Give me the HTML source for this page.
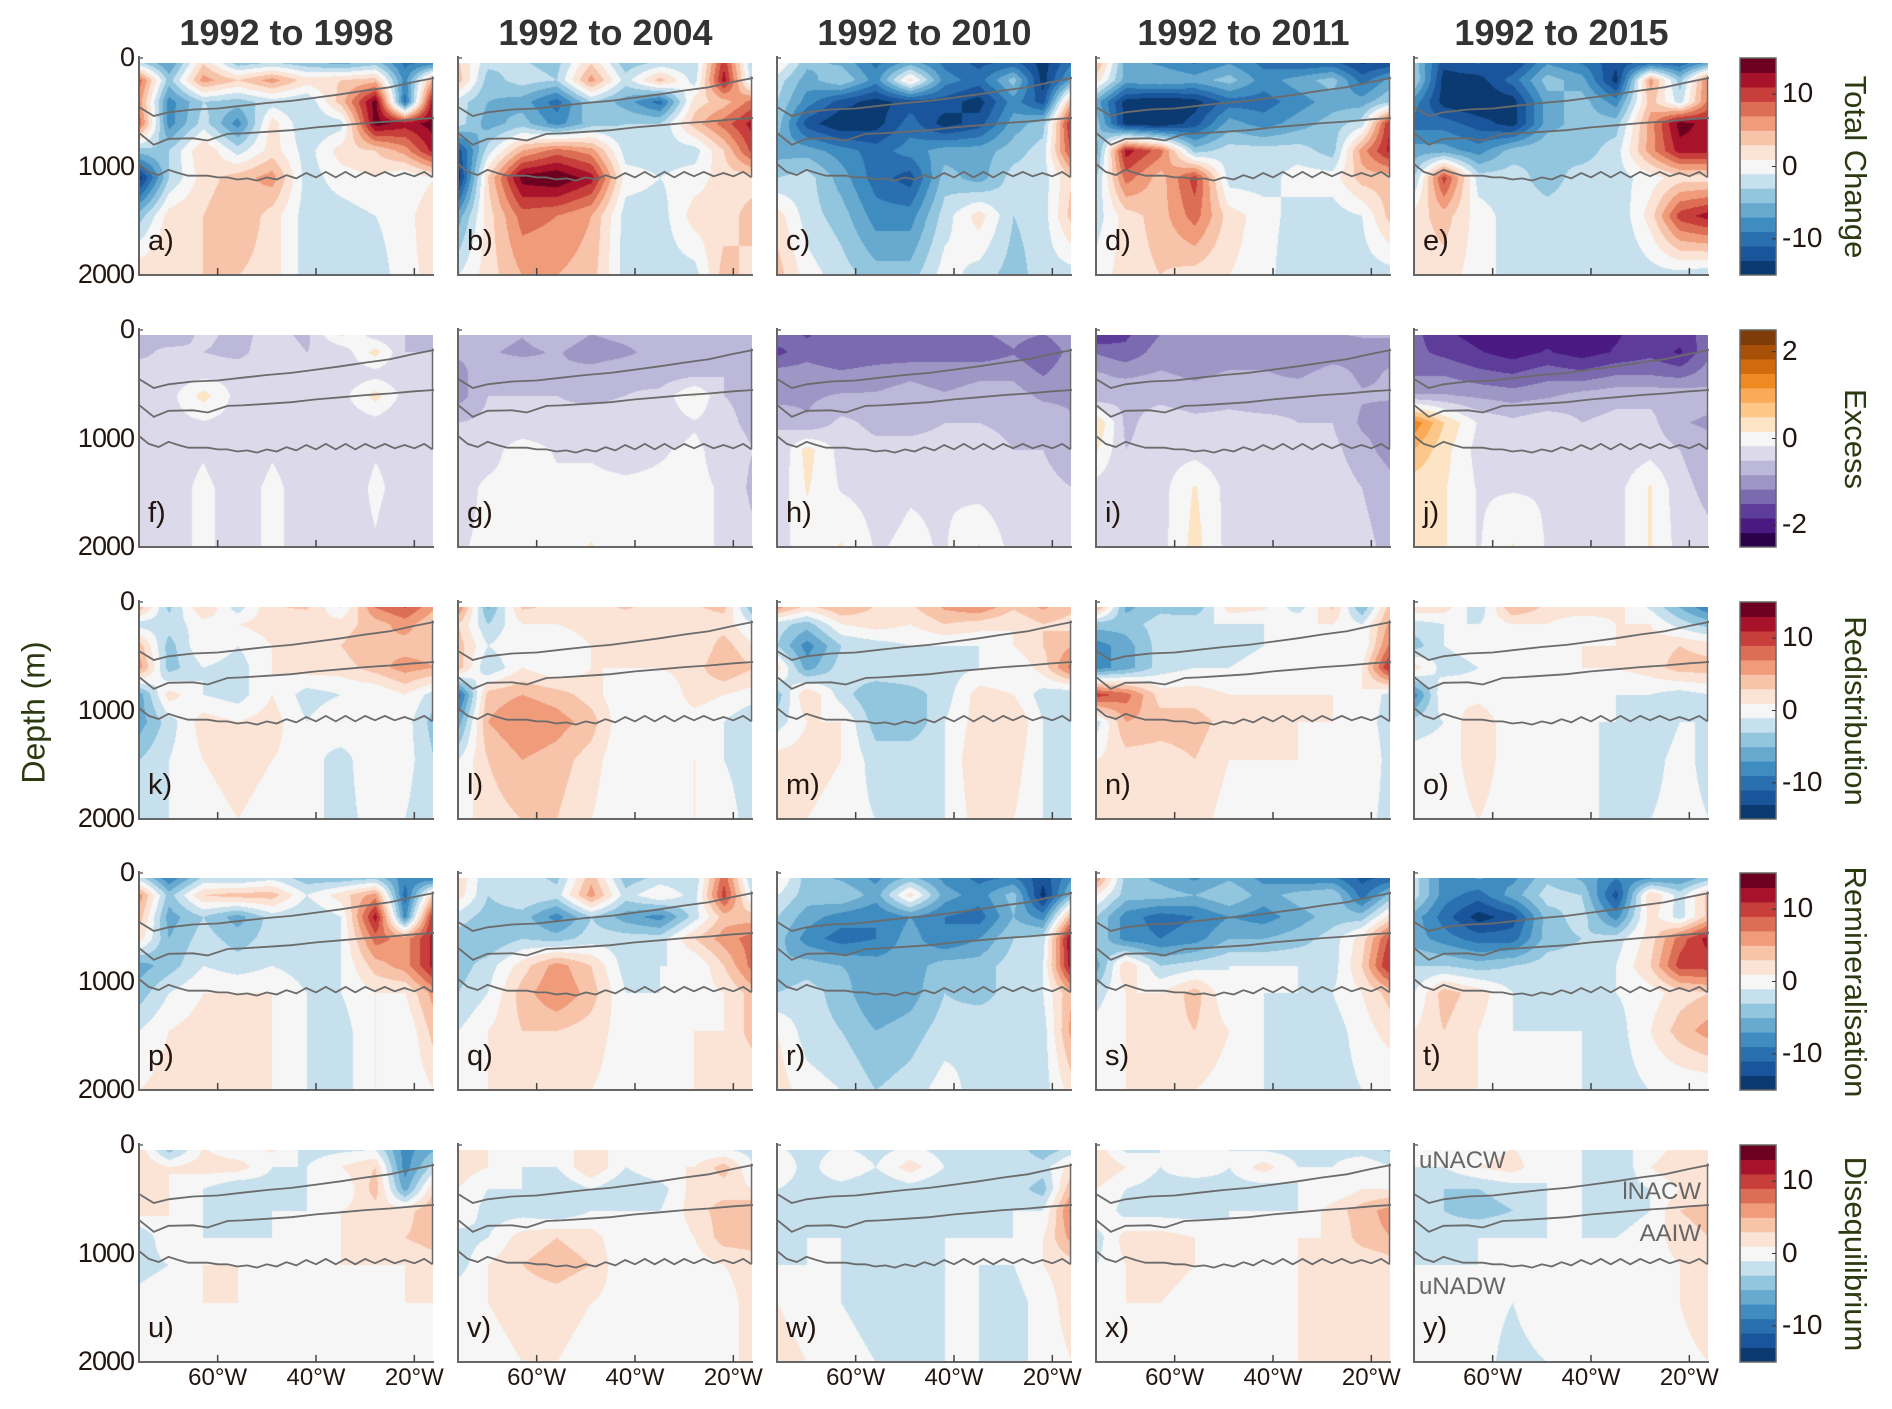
<!DOCTYPE html>
<html><head><meta charset="utf-8">
<style>
body{margin:0;background:#fff;width:1892px;height:1409px;position:relative;overflow:hidden;font-family:"Liberation Sans",sans-serif}
.t{position:absolute;white-space:nowrap}
canvas{position:absolute}
</style></head><body>
<svg id="ov" width="1892" height="1409" style="position:absolute;left:0;top:0;z-index:2"></svg>
<script>
// ---- data ----
const lons=[-76,-70,-63,-56,-49,-42,-35,-28,-22,-16];
const depths=[0,200,400,600,850,1100,1450,2000];
const colTitles=["1992 to 1998","1992 to 2004","1992 to 2010","1992 to 2011","1992 to 2015"];
const rowTitles=["Total Change","Excess","Redistribution","Remineralisation","Disequilibrium"];
const depthTicks=[0,1000,2000];
const lonTicks=[-60,-40,-20];
const lonTickLabels=["60°W","40°W","20°W"];
const cbTicksRB=[10,0,-10];
const cbTicksPO=[2,0,-2];
const line1Lons=[-76,-73,-70,-65,-60,-55,-50,-45,-40,-35,-30,-25,-20,-16];
const line1Dep=[452,535,500,475,465,440,415,395,365,335,300,270,220,184];
const line2Lons=[-76,-73,-70,-65,-62,-58,-55,-50,-45,-40,-35,-30,-25,-20,-16];
const line2Dep=[690,800,745,740,760,700,695,680,665,640,620,600,585,565,553];
const line3Lons=[-76,-74,-72,-70,-68,-66,-64,-62,-60,-58,-56,-54,-52,-50,-48,-46,-44,-42,-40,-38,-36,-34,-32,-30,-28,-26,-24,-22,-20,-18,-16.3];
const line3Dep=[977,1050,1078,1030,1060,1085,1085,1085,1100,1100,1120,1110,1130,1100,1120,1080,1110,1060,1100,1050,1100,1050,1100,1050,1090,1050,1090,1060,1090,1050,1100];
const P={
a:[[-5,-8,2,-6,-5,-6,-8,-6,-10,-12],[8,-4,6,3,6,2,3,4,-8,6],[6,-8,-3,-4,-2,-3,4,14,-10,14],[8,-8,-2,-8,2,-3,-2,14,12,14],[-4,-3,3,-2,2,-2,2,3,6,12],[-14,-3,2,4,6,-2,0,1,-1,1],[-4,2,3,5,2,-2,-2,-1,0,3],[3,3,3,3,2,-2,-2,-2,0,2]],
b:[[3,-2,-3,-4,2,-5,-4,-3,10,-4],[4,-4,-2,-3,6,-2,4,-2,12,-3],[-2,-5,-6,-10,-3,-6,-10,2,4,8],[-2,-6,-4,-8,-4,-3,-3,4,8,12],[-12,-2,5,8,6,-2,-2,-2,3,10],[-14,3,14,15,12,0,-1,0,2,2],[-6,2,8,7,5,-2,-2,2,2,4],[-1,2,5,5,4,-2,-2,-2,4,2]],
c:[[2,-4,-6,-10,-8,-10,-12,-12,-14,-10],[-2,-6,-3,-8,2,-8,-10,-4,-14,-6],[-3,-8,-12,-14,-12,-12,-14,-8,-12,6],[-4,-12,-15,-14,-10,-14,-12,-6,-4,12],[-6,-6,-8,-10,-8,-6,-6,-4,-2,10],[-3,-2,-6,-10,-12,-4,-6,-2,-2,3],[2,-2,-4,-8,-8,-2,2,-3,-2,4],[4,0,-2,-4,-4,0,-2,-4,-2,-2]],
d:[[6,-6,-8,-10,-8,-10,-12,-12,-14,-14],[2,-6,-5,-6,-4,-8,-6,-4,-10,-6],[-6,-14,-15,-14,-10,-10,-8,-6,-6,-3],[-4,-14,-15,-12,-6,-8,-6,-4,-2,12],[-6,12,8,-4,-2,-2,-2,-4,6,12],[-3,8,4,10,-2,-2,0,0,4,4],[-2,2,4,8,2,0,-2,-2,-1,4],[0,2,3,2,1,0,-3,-3,-2,-2]],
e:[[-4,-12,-10,-14,-8,-10,-12,-14,-12,-10],[-3,-14,-14,-10,-4,-6,-14,6,-4,8],[-8,-14,-15,-14,-6,-4,-8,4,-2,8],[-10,-10,-12,-14,-6,-4,-4,6,14,12],[-6,-6,-8,-4,-3,-4,-2,6,12,12],[-3,10,-2,-2,-4,-2,-2,0,2,2],[2,4,0,-2,-2,-2,-3,2,10,12],[2,2,0,-2,-2,-3,-3,-2,-2,-3]],
f:[[-0.5,-0.8,-0.4,-0.6,-0.4,-0.6,0.4,-0.5,-0.5,-0.6],[-0.6,-0.4,-0.5,-0.6,-0.3,-0.5,-0.4,0.3,-0.5,-0.5],[-0.3,-0.4,-0.3,-0.3,-0.3,-0.3,-0.4,-0.3,-0.4,-0.3],[-0.5,-0.3,0.3,-0.3,-0.2,-0.4,-0.3,0.3,-0.3,-0.4],[-0.3,-0.3,-0.2,-0.3,-0.2,-0.3,-0.4,-0.3,-0.5,-0.4],[-0.3,-0.3,-0.2,-0.4,-0.2,-0.3,-0.4,-0.2,-0.3,-0.3],[-0.2,-0.3,-0.1,-0.3,-0.1,-0.3,-0.4,-0.1,-0.3,-0.5],[-0.2,-0.3,-0.1,-0.3,-0.1,-0.3,-0.3,-0.2,-0.4,-0.4]],
g:[[-0.8,-0.7,-0.8,-0.6,-0.8,-0.7,-0.6,-0.8,-0.6,-0.7],[-0.8,-0.8,-0.9,-0.8,-1.0,-0.9,-0.7,-0.8,-0.6,-0.7],[-0.9,-0.7,-0.6,-0.8,-0.7,-0.6,-0.7,-0.6,-0.5,-0.6],[-1.0,-0.5,-0.5,-0.5,-0.6,-0.5,-0.4,0.2,-0.5,-0.6],[-0.5,-0.4,-0.4,-0.4,-0.3,-0.3,-0.4,-0.2,-0.4,-0.6],[-0.3,-0.3,0,-0.2,-0.2,-0.3,-0.2,-0.1,-0.3,-0.5],[-0.3,-0.1,-0.1,-0.1,-0.1,-0.1,-0.1,-0.1,-0.2,-0.6],[-0.2,-0.1,0,-0.1,0.2,-0.1,-0.1,-0.1,-0.2,-0.4]],
h:[[-1.2,-1.6,-1.2,-1.4,-1.2,-1.3,-1.2,-1.0,-1.1,-0.9],[-1.6,-1.3,-1.5,-1.4,-1.4,-1.3,-1.4,-1.2,-1.5,-1.0],[-1.0,-1.0,-1.1,-1.0,-0.9,-1.0,-0.9,-0.9,-1.2,-0.9],[-1.0,-0.9,-0.8,-0.8,-0.7,-0.8,-0.7,-0.7,-0.9,-0.9],[-0.5,-0.8,-0.4,-0.6,-0.6,-0.5,-0.5,-0.6,-0.6,-0.8],[-0.5,0.3,-0.3,-0.4,-0.4,-0.4,-0.3,-0.5,-0.5,-0.7],[-0.4,0.2,-0.2,-0.3,-0.2,-0.2,-0.3,-0.4,-0.4,-0.5],[-0.3,0,0.2,-0.2,-0.1,-0.2,0.2,-0.3,-0.3,-0.4]],
i:[[-2.0,-1.6,-1.2,-1.0,-1.0,-0.9,-0.9,-0.8,-0.8,-0.8],[-1.2,-1.4,-1.0,-0.9,-1.0,-1.0,-1.1,-1.0,-0.9,-0.9],[-0.8,-0.9,-0.8,-0.9,-0.8,-0.8,-0.9,-0.7,-0.9,-0.8],[-0.8,-0.6,-0.6,-0.7,-0.6,-0.7,-0.6,-0.6,-0.8,-0.8],[0.5,-0.6,-0.3,-0.4,-0.4,-0.4,-0.5,-0.5,-0.9,-1.0],[0.2,-0.5,-0.3,-0.3,-0.4,-0.3,-0.4,-0.4,-0.7,-1.0],[-0.3,-0.4,-0.3,0.2,-0.3,-0.3,-0.4,-0.3,-0.5,-0.7],[-0.4,-0.3,-0.3,0.3,-0.3,-0.3,-0.4,-0.3,-0.4,-0.6]],
j:[[-1.4,-1.8,-2.0,-1.8,-2.0,-1.8,-1.9,-1.6,-1.6,-1.4],[-1.4,-1.6,-1.8,-2.0,-1.8,-2.0,-1.8,-1.6,-1.9,-1.2],[-1.2,-1.2,-1.4,-1.5,-1.3,-1.4,-1.2,-1.2,-1.3,-1.0],[-0.8,-0.8,-0.9,-1.0,-0.9,-0.7,-0.6,-0.6,-0.6,-0.7],[1.4,0.5,-0.2,-0.4,-0.2,-0.5,-0.4,-0.4,-0.8,-0.9],[0.8,0.3,-0.3,-0.4,-0.3,-0.3,-0.4,-0.3,-0.5,-0.7],[0.3,0.2,-0.2,-0.2,-0.2,-0.3,-0.3,0.2,-0.4,-0.6],[0.3,0.2,-0.2,0.2,-0.2,-0.2,-0.3,0.2,-0.3,-0.4]],
k:[[6,-4,4,-3,3,4,-2,8,10,6],[-2,-2,0,1,2,1,2,4,6,3],[4,-4,1,-1,1,2,3,5,4,4],[6,-4,-1,-2,1,2,2,4,6,5],[-6,2,-1,-2,1,-2,-1,-1,1,-2],[-6,-2,2,1,2,-1,1,-1,0,-4],[-3,-1,1,2,1,0,-2,1,0,-3],[-2,-1,0,1,0,0,-2,0,-1,-3]],
l:[[8,-6,4,3,2,4,2,3,4,-6],[3,-3,1,1,2,1,1,2,2,-1],[4,-1,1,-1,1,2,1,1,4,1],[4,-3,1,-1,1,1,1,2,5,3],[-10,4,5,4,2,-1,-1,2,1,0],[-6,5,7,6,4,-1,-1,0,-1,-3],[-1,3,5,4,2,-1,-1,1,-1,-2],[0,2,3,3,1,-1,-1,1,0,-2]],
m:[[8,4,6,3,3,6,8,4,6,4],[-2,-4,1,2,1,3,2,1,3,2],[-3,-8,-3,-2,-1,-1,-1,1,3,5],[2,-6,-2,-1,-1,-2,-1,-1,2,8],[-4,3,-2,-5,-4,-2,2,1,-2,-3],[-2,1,1,-4,-5,-1,2,3,-1,-2],[2,2,1,-2,-1,-1,3,2,-1,-3],[1,1,0,-1,-2,-1,2,1,-1,-2]],
n:[[8,-6,-4,-6,3,2,-3,4,-6,4],[-4,-4,-2,-1,-1,-1,1,1,-1,6],[-8,-6,-2,-2,-2,-1,0,0,-1,8],[-8,-6,-2,-1,-1,0,0,0,1,12],[10,8,2,2,1,1,1,1,1,-2],[-2,5,4,4,2,1,1,1,0,-2],[1,2,2,3,1,1,1,0,1,-2],[1,1,1,2,0,0,1,0,0,-2]],
o:[[4,3,-3,6,3,4,2,-2,-6,-10],[-2,-1,-1,1,1,-1,1,1,-2,-4],[-4,-1,0,-1,0,1,1,2,3,2],[2,-2,-1,-1,0,1,1,2,4,4],[-8,1,0,-1,0,-1,-1,-1,-2,-1],[-2,-1,3,-1,-1,-1,-1,-3,-1,-1],[0,0,2,0,-1,0,-2,-2,0,-2],[0,0,1,0,0,0,-2,-1,0,-1]],
p:[[-4,-10,-4,-5,-3,-5,-6,-6,-8,-12],[6,-4,3,4,4,-1,2,6,-10,4],[4,-6,-3,-6,-2,-3,-1,12,-8,12],[2,-5,-2,-4,-2,-3,-1,8,6,12],[-6,-4,-1,-2,-1,-2,-1,4,6,12],[-4,-1,1,1,1,-1,-1,1,1,6],[-1,1,2,2,1,-1,-2,1,-1,4],[1,2,2,2,1,-1,-2,1,-1,1]],
q:[[3,-3,-2,-4,4,-5,-3,-3,8,-4],[2,-3,-1,-2,6,-2,1,-2,10,-2],[-2,-4,-4,-8,-3,-6,-8,-2,4,4],[-4,-5,-3,-4,-2,-2,-2,3,6,8],[-4,-2,2,6,3,-2,-1,-1,3,8],[-3,-1,4,7,4,-1,-1,0,1,4],[-1,1,3,3,2,0,0,1,1,4],[0,1,2,2,1,0,0,1,2,1]],
r:[[2,-4,-6,-8,-6,-8,-10,-10,-12,-8],[-1,-4,-3,-6,2,-6,-8,-4,-14,-4],[-3,-6,-8,-9,-7,-9,-10,-5,-8,6],[-4,-8,-10,-9,-6,-9,-7,-3,-2,14],[-5,-4,-5,-6,-6,-4,-4,-2,-1,13],[-3,-2,-4,-7,-6,-3,-4,-2,-1,5],[1,-2,-3,-5,-4,-2,-1,-2,-2,6],[2,0,-1,-3,-2,0,-2,-2,-2,2]],
s:[[8,-4,-6,-8,-6,-8,-10,-10,-12,-12],[1,-4,-4,-5,-3,-6,-4,-3,-10,-4],[-3,-8,-10,-9,-7,-8,-6,-4,-4,2],[-3,-8,-9,-8,-5,-5,-4,-2,2,10],[-6,3,-3,-2,-1,-1,-1,-2,3,12],[-2,1,1,4,-1,-1,-1,-1,1,4],[0,1,2,3,1,-1,-2,-2,0,2],[0,1,1,1,0,-1,-2,-2,-1,-1]],
t:[[-2,-8,-6,-8,-4,-6,-8,-10,-8,-6],[-2,-8,-10,-6,-2,-3,-12,3,-2,4],[-6,-10,-14,-12,-4,-2,-8,2,-2,4],[-6,-8,-10,-10,-4,-3,-2,2,8,12],[-3,-3,-4,-3,-2,-2,-1,3,10,10],[-1,4,2,-1,-2,-1,-1,0,2,3],[1,3,1,-1,-1,-1,-2,1,4,6],[1,1,1,-1,-1,-1,-2,-1,-1,-1]],
u:[[2,-5,1,-1,2,-2,-2,-2,-8,-6],[3,1,2,2,-1,-1,1,3,-8,-2],[1,1,-1,-3,-2,-1,-1,4,-6,3],[2,1,-1,-3,-1,-1,1,2,2,5],[-3,1,-1,-1,-1,-1,1,2,3,4],[-2,-1,1,1,0,0,1,1,1,2],[0,1,1,1,0,0,0,0,1,1],[1,1,0,0,0,0,0,0,0,1]],
v:[[2,1,-1,-1,3,-1,-1,-1,-2,-2],[2,1,-1,-1,3,-1,1,1,4,-1],[1,-1,-1,-3,-1,-3,-2,2,2,1],[1,-2,-2,-3,-1,-1,-1,2,4,5],[-2,-1,2,3,2,-1,-1,1,4,4],[-2,1,3,4,3,-1,-1,0,1,2],[1,1,2,2,1,0,-1,0,0,2],[1,0,1,1,0,0,-1,0,1,1]],
w:[[-1,-2,-1,-2,-1,-2,-2,-2,-5,-3],[1,-2,1,-1,2,-1,-2,-1,-2,2],[-1,-2,-2,-3,-2,-3,-2,-2,-4,5],[-1,-2,-2,-3,-2,-3,-2,-1,-1,8],[-2,-1,-1,-3,-2,-1,-1,-1,1,6],[-1,-1,-1,-2,-2,-1,-1,-1,1,2],[1,0,-1,-2,-2,-1,-1,-2,0,2],[2,1,0,-1,-1,-1,-1,-2,0,1]],
x:[[2,-2,-1,-1,-1,-2,-2,-2,-3,-4],[3,1,-1,1,-1,2,-1,-1,1,-1],[1,-1,-2,-3,-2,-2,-1,-1,1,1],[1,-2,-2,-2,-1,-1,-1,2,4,6],[-2,2,2,1,-1,-1,1,1,4,5],[-1,1,2,1,1,0,1,1,1,2],[1,1,1,0,1,1,1,1,1,2],[1,0,0,1,0,0,1,1,1,1]],
y:[[-1,-1,-1,1,-1,-1,-1,-1,2,2],[-1,-1,1,2,-1,-1,-3,1,3,3],[-2,-3,-3,-2,-1,-1,-2,-1,1,1],[-3,-3,-4,-3,-1,-1,-2,-1,3,4],[-2,-2,-1,-1,-1,-1,-1,0,2,3],[-1,-1,-1,0,0,-1,-1,0,1,2],[-1,-1,0,-1,1,1,0,0,1,3],[-1,-1,0,-2,-1,0,0,0,0,1]]
};
// ---- layout ----
const colX=[139,458,777,1096,1414], rowY=[58,330,602,873,1145], PW=295, PH=217;
const RB=['#0a3a70','#1a559b','#2a6fb0','#3f8cc0','#67a9cf','#92c5de','#c6e0ee','#f5f6f5','#fbe3d6','#f7c3a9','#f09c7b','#dc6e56','#c73e3a','#a8122a','#6d0020'];
const PO=['#2d004b','#4a1a82','#5e3c99','#7b6aaf','#9e97c6','#bcb8d9','#dcdaea','#f5f6f5','#fde4c4','#fdc78a','#fbab57','#ef8a22','#d16a0c','#a84f08','#7f3b08'];
const NS='http://www.w3.org/2000/svg';
const ov=document.getElementById('ov');
function sx(c,lon){return colX[c]+(lon+76)/60*PW;}
function sy(r,d){return rowY[r]+d/2000*PH;}
function el(tag,attrs,parent){const e=document.createElementNS(NS,tag);for(const k in attrs)e.setAttribute(k,attrs[k]);(parent||ov).appendChild(e);return e;}
function txt(s,x,y,style){const d=document.createElement('div');d.className='t';d.textContent=s;d.style.cssText=style;d.style.left=x+'px';d.style.top=y+'px';document.body.appendChild(d);return d;}
function interp(g,lon,dep){
  let i=0;while(i<lons.length-2&&lon>lons[i+1])i++;
  let j=0;while(j<depths.length-2&&dep>depths[j+1])j++;
  let tx=(lon-lons[i])/(lons[i+1]-lons[i]);tx=Math.max(0,Math.min(1,tx));
  let ty=(dep-depths[j])/(depths[j+1]-depths[j]);ty=Math.max(0,Math.min(1,ty));
  const a=g[j][i],b=g[j][i+1],c=g[j+1][i],d=g[j+1][i+1];
  return (a*(1-tx)+b*tx)*(1-ty)+(c*(1-tx)+d*tx)*ty;
}
function hex(h){return [parseInt(h.substr(1,2),16),parseInt(h.substr(3,2),16),parseInt(h.substr(5,2),16)];}
const keys='abcdefghijklmnopqrstuvwxy'.split('');
for(let r=0;r<5;r++){
  const cmap=(r==1?PO:RB).map(hex), vmax=(r==1?2.5:15);
  for(let c=0;c<5;c++){
    const k=keys[r*5+c], g=P[k];
    const cv=document.createElement('canvas');
    
    
    cv.width=PW-2;cv.height=PH-6;cv.style.left=(colX[c]+1)+'px';cv.style.top=(rowY[r]+5)+'px';
    document.body.appendChild(cv);
    const ctx=cv.getContext('2d'),im=ctx.createImageData(cv.width,cv.height);
    for(let py=0;py<cv.height;py++){const dep=(py+5)/PH*2000;
      for(let px=0;px<cv.width;px++){const lon=-76+(px+1)/PW*60;
        const v=interp(g,lon,dep);
        let idx=Math.floor((v+vmax)/(2*vmax)*15);idx=Math.max(0,Math.min(14,idx));
        const col=cmap[idx],o=(py*cv.width+px)*4;
        im.data[o]=col[0];im.data[o+1]=col[1];im.data[o+2]=col[2];im.data[o+3]=255;}}
    ctx.putImageData(im,0,0);
    [[line1Lons,line1Dep],[line2Lons,line2Dep],[line3Lons,line3Dep]].forEach((L,li)=>{
      const pts=L[0].map((lo,ii)=>sx(c,lo).toFixed(1)+','+sy(r,L[1][ii]).toFixed(1)).join(' ');
      const pl=el('polyline',{points:pts,fill:'none',stroke:'#6b6b6b','stroke-width':1.8});
      
      
    });
    const vl=el('line',{x1:sx(c,-16.3),x2:sx(c,-16.3),y1:sy(r,170),y2:sy(r,1100),stroke:'#6b6b6b','stroke-width':1.5});
    
    
    const ax=el('path',{d:`M${colX[c]} ${rowY[r]-2} V${rowY[r]+PH} H${colX[c]+PW}`,fill:'none',stroke:'#666','stroke-width':2});
    
    
    el('line',{x1:colX[c],x2:colX[c]+4,y1:rowY[r],y2:rowY[r],stroke:'#666','stroke-width':1.5});
    lonTicks.forEach((lt,ti)=>{
      el('line',{x1:sx(c,lt),x2:sx(c,lt),y1:rowY[r]+PH,y2:rowY[r]+PH-7,stroke:'#444','stroke-width':1.5});
      if(r==4){const d=txt(lonTickLabels[ti],sx(c,lt)-30,1364,'width:60px;text-align:center;font-size:24px;color:#221510');
        
        }
    });
    const lb=txt(k+')',colX[c]+9,rowY[r]+PH-50,'font-size:29px;color:#221510');
    
    
    if(c==0){depthTicks.forEach(dt=>{const d=txt(String(dt),0,sy(r,dt)-16,'width:134px;text-align:right;font-size:27px;color:#221510;letter-spacing:-1px');
      
      });}
  }
  const cmapH=(r==1?PO:RB), vmaxCb=(r==1?2.5:15);
  for(let b=0;b<15;b++){const rc=el('rect',{x:1740,y:sy(r,0)+(14-b)*PH/15,width:36,height:PH/15+0.5,fill:cmapH[b]});
    
    }
  el('rect',{x:1740,y:rowY[r],width:36,height:PH,fill:'none',stroke:'#666','stroke-width':1.5});
  (r==1?cbTicksPO:cbTicksRB).forEach(tv=>{const yy=rowY[r]+(vmaxCb-tv)/(2*vmaxCb)*PH;
    el('line',{x1:1772,x2:1776,y1:yy,y2:yy,stroke:'#333'});
    const d=txt(String(tv),1782,yy-17,'font-size:28px;color:#221510');
    
    });
  const rt=txt(rowTitles[r],1855-150,rowY[r]+PH/2-18,'width:300px;text-align:center;font-size:31px;color:#2b3a10;transform:rotate(90deg)');
  
  
}
colTitles.forEach((t,c)=>{const d=txt(t,colX[c]+PW/2-160,12,'width:320px;text-align:center;font-size:36px;font-weight:bold;color:#333');
  
  });
const yl=txt('Depth (m)',34-100,694,'width:200px;text-align:center;font-size:32px;color:#2b3a10;transform:rotate(-90deg)');


[['uNACW',1419,1147,'left'],['lNACW',1581,1178,'right'],['AAIW',1581,1220,'right'],['uNADW',1419,1273,'left']].forEach(a=>{
  const d=txt(a[0],a[1],a[2],'width:120px;text-align:'+a[3]+';font-size:24px;color:#666;z-index:3');
  
  });
</script>
</body></html>
